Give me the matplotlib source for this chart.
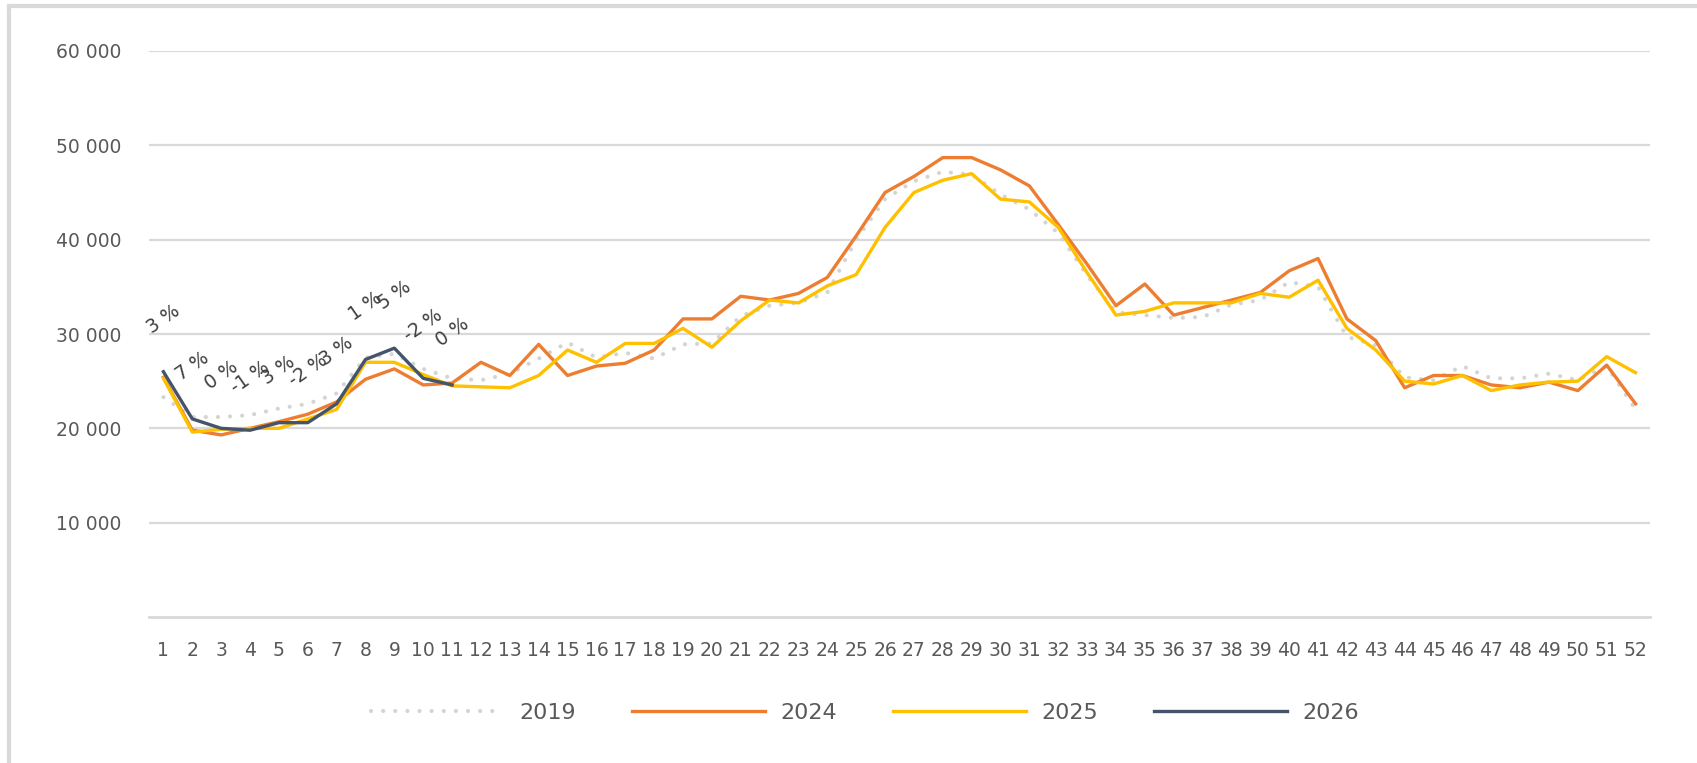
import numpy as np
import matplotlib
matplotlib.use('Agg')
import matplotlib.pyplot as plt
from matplotlib.lines import Line2D

plt.rcParams['font.family'] = ['DejaVu Sans']

# Data (weekly values)
weeks = list(range(1, 53))

y2019 = [23300, 21200, 21200, 21400, 22100, 22600, 23700, 27500, 27900, 26300,
         25300, 25100, 25800, 27400, 29100, 27500, 28000, 27400, 28900, 29000,
         31900, 33000, 33300, 34400, 40000, 44300, 46200, 47200, 46900, 44800,
         43200, 40700, 36200, 32300, 32000, 31700, 31800, 33100, 33600, 35500,
         35000, 29700, 28800, 25400, 25100, 26600, 25300, 25300, 25800, 25100,
         26600, 22000]

y2024 = [25400, 19800, 19300, 20000, 20700, 21500, 22800, 25200, 26300, 24600,
         24800, 27000, 25600, 28900, 25600, 26600, 26900, 28300, 31600, 31600,
         34000, 33600, 34300, 36000, 40400, 45000, 46700, 48700, 48700, 47400,
         45700, 41600, 37400, 33000, 35300, 32000, 32800, 33600, 34400, 36700,
         38000, 31600, 29300, 24300, 25600, 25600, 24600, 24300, 24900, 24000,
         26700, 22600]

y2025 = [25300, 19600, 19900, 20000, 20000, 21000, 22000, 27000, 27000, 25700,
         24500, 24400, 24300, 25600, 28300, 27000, 29000, 29000, 30600, 28600,
         31400, 33600, 33300, 35100, 36300, 41300, 45000, 46300, 47000, 44300,
         44000, 41300, 36500, 32000, 32400, 33300, 33300, 33300, 34300, 33900,
         35700, 30600, 28300, 25000, 24700, 25600, 24000, 24600, 24900, 25000,
         27600, 25900]

weeks_2026 = list(range(1, 12))
y2026 = [26000, 21000, 20000, 19800, 20600, 20600, 22600, 27300, 28500, 25300, 24600]
pct_2026 = ['3 %', '7 %', '0 %', '-1 %', '3 %', '-2 %', '3 %', '1 %', '5 %', '-2 %', '0 %']

grid_col = '#d9d9d9'
text_col = '#595959'

fig = plt.figure(figsize=(16.97, 7.63), dpi=100)
ax = fig.add_axes([149 / 1697, 1 - 617 / 763, 1501 / 1697, 566 / 763])

ax.plot(weeks, y2019, color='#d4d4d4', lw=3.0, linestyle=(0, (0.01, 2.9)),
        dash_capstyle='round', label='2019')
ax.plot(weeks, y2024, color='#ed7d31', lw=2.4, label='2024')
ax.plot(weeks, y2025, color='#ffc000', lw=2.4, label='2025')
ax.plot(weeks_2026, y2026, color='#44546a', lw=2.4, label='2026')

for w, v, t in zip(weeks_2026, y2026, pct_2026):
    ax.annotate(t, (w, v), xytext=(0, 38), textcoords='offset points',
                ha='center', va='center', rotation=35, fontsize=13.5, color='#404040')

ax.set_xlim(0.5, 52.5)
ax.set_ylim(0, 60000)
ax.set_xticks(weeks)
ax.set_xticklabels([str(w) for w in weeks])
yt = [10000, 20000, 30000, 40000, 50000, 60000]
ax.set_yticks(yt)
ax.set_yticklabels(['{:,}'.format(v).replace(',', ' ') for v in yt])
ax.tick_params(axis='x', length=0, pad=17, labelsize=13.5, colors=text_col)
ax.tick_params(axis='y', length=0, pad=20, labelsize=13.5, colors=text_col)

ax.grid(axis='y', color=grid_col, lw=1.6)
ax.set_axisbelow(True)
for s in ['top', 'right', 'left']:
    ax.spines[s].set_visible(False)
ax.spines['bottom'].set_color(grid_col)
ax.spines['bottom'].set_linewidth(2)

fig.legend(loc='center', bbox_to_anchor=(865 / 1697, 1 - 713 / 763), ncol=4,
           frameon=False, fontsize=16, handlelength=6.0, handletextpad=0.7,
           columnspacing=2.5, labelcolor=text_col)

# chart border (left and top edges visible)
fig.add_artist(Line2D([9 / 1697, 9 / 1697], [0, 1 - 6 / 763], color=grid_col, lw=3))
fig.add_artist(Line2D([9 / 1697, 1], [1 - 6 / 763, 1 - 6 / 763], color=grid_col, lw=3))

plt.savefig('out.png', dpi=100)
